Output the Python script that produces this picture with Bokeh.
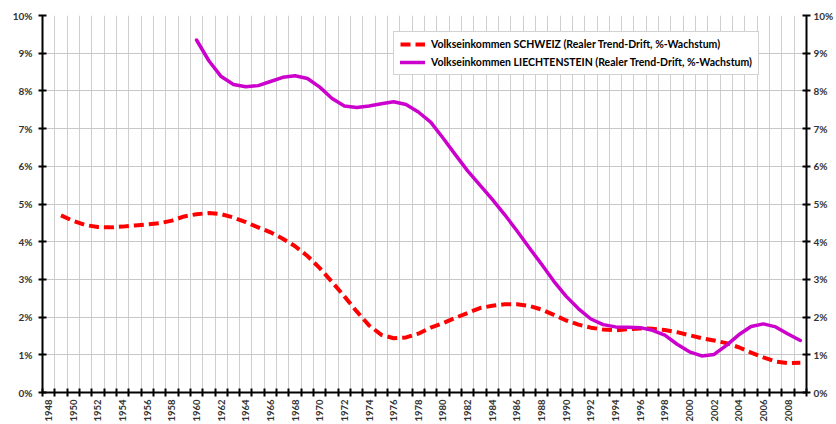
import math
from bokeh.plotting import figure
from bokeh.models import FixedTicker, LinearAxis, Range1d, Legend, LegendItem, ColumnDataSource
from bokeh.embed import file_html
from bokeh.resources import INLINE

# Data (percent growth)
years_ch = list(range(1949, 2010))
schweiz = [4.70, 4.55, 4.44, 4.39, 4.38, 4.40, 4.43, 4.46, 4.49, 4.56,
           4.67, 4.73, 4.76, 4.73, 4.64, 4.52, 4.38, 4.25, 4.08, 3.88,
           3.62, 3.30, 2.93, 2.55, 2.15, 1.78, 1.53, 1.44, 1.46, 1.56,
           1.72, 1.84, 1.98, 2.11, 2.24, 2.30, 2.34, 2.34, 2.30, 2.20,
           2.06, 1.91, 1.80, 1.72, 1.67, 1.65, 1.68, 1.70, 1.69, 1.66,
           1.60, 1.52, 1.44, 1.38, 1.31, 1.20, 1.06, 0.93, 0.82, 0.78,
           0.79]
years_li = list(range(1960, 2010))
liechtenstein = [9.35, 8.80, 8.38, 8.17, 8.11, 8.14, 8.25, 8.36, 8.40, 8.33,
                 8.10, 7.80, 7.60, 7.56, 7.60, 7.66, 7.71, 7.64, 7.44, 7.17,
                 6.75, 6.31, 5.88, 5.50, 5.12, 4.72, 4.29, 3.84, 3.40, 2.95,
                 2.55, 2.22, 1.95, 1.80, 1.74, 1.73, 1.72, 1.65, 1.52, 1.28,
                 1.08, 0.97, 1.01, 1.25, 1.53, 1.75, 1.82, 1.74, 1.55, 1.38]
category_years = list(range(1948, 2010))
label_years = list(range(1948, 2010, 2))
y_ticks = list(range(0, 11))
label_ch = "Volkseinkommen SCHWEIZ (Realer Trend-Drift, %-Wachstum)"
label_li = "Volkseinkommen LIECHTENSTEIN (Realer Trend-Drift, %-Wachstum)"

FONT = "Lato"
TXT = "#333333"

p = figure(width=836, height=424,
           x_range=Range1d(category_years[0] - 0.5, category_years[-1] + 0.5),
           y_range=Range1d(0, 10),
           output_backend="svg", toolbar_location=None,
           min_border_left=42, min_border_right=30,
           min_border_top=15, min_border_bottom=30,
           x_axis_location="below", y_axis_location="left")
p.outline_line_color = None
p.background_fill_color = "white"
p.border_fill_color = "white"

boundaries = [y - 0.5 for y in category_years] + [category_years[-1] + 0.5]

# x axis
xa = p.xaxis[0]
xa.ticker = FixedTicker(ticks=label_years, minor_ticks=boundaries)
xa.major_tick_line_color = None
xa.minor_tick_in = 4
xa.minor_tick_out = 4
xa.minor_tick_line_width = 2
xa.minor_tick_line_color = "black"
xa.axis_line_width = 2
xa.axis_line_color = "black"
xa.major_label_orientation = math.pi / 2
xa.major_label_text_font = FONT
xa.major_label_text_font_style = "bold"
xa.major_label_text_font_size = "9.5px"
xa.major_label_text_color = TXT
xa.major_label_standoff = 1
xa.major_label_overrides = {y: str(y) for y in label_years}

# y axes
def style_y(ax, standoff):
    ax.ticker = FixedTicker(ticks=y_ticks)
    ax.major_label_overrides = {t: f"{t}%" for t in y_ticks}
    ax.minor_tick_line_color = None
    ax.major_tick_in = 4
    ax.major_tick_out = 4
    ax.major_tick_line_width = 2
    ax.major_tick_line_color = "black"
    ax.axis_line_width = 2
    ax.axis_line_color = "black"
    ax.major_label_text_font = FONT
    ax.major_label_text_font_style = "bold"
    ax.major_label_text_font_size = "10px"
    ax.major_label_text_color = TXT
    ax.major_label_standoff = standoff

style_y(p.yaxis[0], 6)
ra = LinearAxis()
style_y(ra, 3)
p.add_layout(ra, "right")

# grids
p.xgrid.ticker = FixedTicker(ticks=boundaries)
p.xgrid.grid_line_color = "#cfcfcf"
p.xgrid.grid_line_width = 1
p.ygrid.ticker = FixedTicker(ticks=y_ticks)
p.ygrid.grid_line_color = "#c8c8c8"
p.ygrid.grid_line_width = 1

src_ch = ColumnDataSource(dict(x=years_ch, y=schweiz))
src_li = ColumnDataSource(dict(x=years_li, y=liechtenstein))
r_ch = p.line("x", "y", source=src_ch, line_color="#ff0000", line_width=4,
              line_dash="10 5", line_join="round")
r_li = p.line("x", "y", source=src_li, line_color="#cc00cc", line_width=3.5,
              line_join="round", line_cap="round")

legend = Legend(items=[LegendItem(label=label_ch, renderers=[r_ch]),
                       LegendItem(label=label_li, renderers=[r_li])],
                location=(351, 317))
legend.label_text_font = FONT
legend.label_text_font_style = "bold"
legend.label_text_font_size = "10.5px"
legend.label_text_color = "black"
legend.glyph_width = 25
legend.glyph_height = 12
legend.label_height = 12
legend.spacing = 6
legend.padding = 6
legend.margin = 0
legend.label_standoff = 6
legend.border_line_color = "#a6a6a6"
legend.border_line_width = 1
legend.background_fill_color = "white"
legend.background_fill_alpha = 1
p.add_layout(legend, "center")

open("out.html", "w").write(file_html(p, INLINE))
